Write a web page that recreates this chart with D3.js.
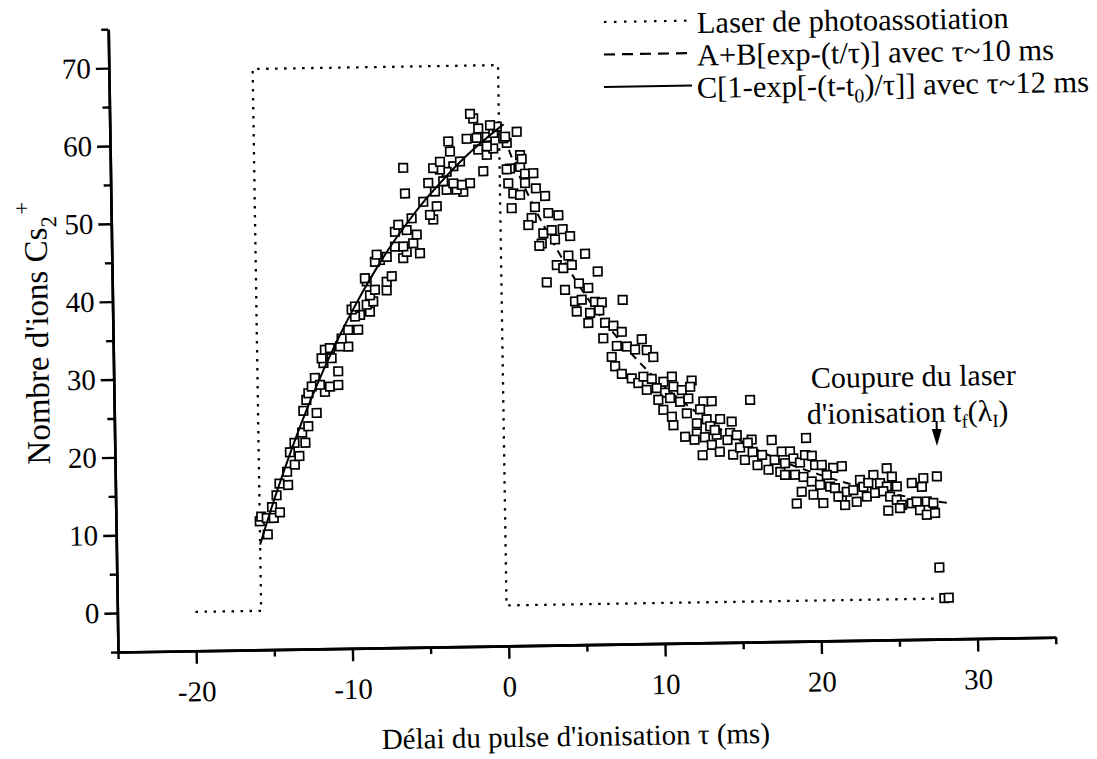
<!DOCTYPE html>
<html><head><meta charset="utf-8">
<script src="https://cdn.jsdelivr.net/npm/d3@7"></script>
<style>
body{margin:0;background:#fff}
svg{display:block}
</style>
</head><body>
<svg id="chart" width="1097" height="759"></svg>
<script>
// ---------------- data ----------------
const xTicksMajor = [-20, -10, 0, 10, 20, 30];
const xTicksMinor = [-25, -15, -5, 5, 15, 25, 35];
const yTicksMajor = [0, 10, 20, 30, 40, 50, 60, 70];
const yTicksMinor = [-5, 5, 15, 25, 35, 45, 55, 65, 75];

// photoassociation laser (dotted)
const laserT = [-20, -15.8, -15.8, -0.1, -0.1, 27.6];
const laserV = [0, 0, 69.6, 69.6, 0.2, 0.2];

// measured Cs2+ ions, rising part (t in ms, number of ions)
const risePoints = [
[-15.8,11.5],[-15.7,12.1],[-15.35,11.9],[-15.3,9.8],[-14.9,11.9],[-15.0,13.3],[-14.5,12.6],[-14.7,14.8],
[-14.5,16.3],[-13.95,16.1],[-14.0,17.8],[-13.5,18.7],[-13.2,19.8],[-13.8,20.3],[-13.5,21.5],[-12.8,21.5],
[-13.0,22.8],[-12.6,23.6],[-12.05,25.3],[-12.9,25.6],[-12.7,27.0],[-12.56,27.85],[-11.5,28.0],[-12.34,28.7],
[-12.13,29.8],[-11.81,28.9],[-11.17,28.65],[-10.64,28.85],[-10.63,30.6],[-11.57,31.7],[-11.04,32.3],[-11.68,32.3],
[-11.46,33.4],[-11.14,33.6],[-9.96,33.75],[-10.49,33.8],[-10.38,34.8],[-9.95,35.9],[-9.31,35.9],[-9.18,37.8],
[-9.5,37.6],[-8.54,38.2],[-8.74,39.1],[-9.71,38.5],[-9.49,38.9],[-8.32,39.5],[-7.45,40.9],[-8.52,40.3],
[-8.2,41.0],[-8.72,42.1],[-8.83,42.5],[-7.44,42.0],[-7.11,42.7],[-7.85,44.8],[-8.17,44.6],[-8.05,45.5],
[-7.41,45.2],[-6.36,45.0],[-5.28,45.6],[-6.13,45.8],[-6.87,46.5],[-6.34,46.5],[-5.7,46.9],[-5.47,48.0],
[-6.11,48.6],[-6.86,48.4],[-6.64,49.3],[-5.78,50.1],[-4.4,49.9],[-4.6,50.5],[-4.16,51.6],[-5.02,52.2],
[-2.45,53.4],[-2.87,53.7],[-4.26,53.5],[-3.51,53.7],[-2.01,54.5],[-2.54,54.3],[-3.08,54.5],[-3.72,54.8],
[-4.68,54.6],[-6.18,53.3],[-1.15,56.0],[-6.27,56.6],[-3.06,56.7],[-3.49,56.0],[-3.92,56.3],[-4.35,56.5],
[-3.91,57.3],[-2.63,57.3],[-3.26,58.6],[-3.36,59.9],[-1.45,58.8],[-0.91,58.1],[-0.49,58.9],[-0.9,59.2],
[-2.18,60.2],[-1.54,60.3],[-0.89,60.4],[-0.47,60.9],[-0.24,61.7],[-0.67,61.9],[-1.43,61.5],[-1.74,62.8],
[-1.94,63.4]
];

// measured Cs2+ ions, decaying part
const decayPoints = [
[1.03,61.0],[0.56,56.3],[0.44,54.4],[0.75,53.1],[0.63,51.2],[1.21,56.5],[0.38,59.6],[0.16,60.2],
[0.28,60.4],[1.22,58.0],[1.32,57.5],[0.35,56.2],[1.52,55.6],[2.05,55.65],[1.51,54.4],[2.2,53.7],
[2.78,52.7],[1.18,52.9],[2.12,51.3],[2.97,50.5],[3.61,50.2],[1.9,49.9],[1.68,49.0],[2.63,47.9],
[3.17,48.3],[3.87,48.4],[4.34,47.5],[3.37,47.1],[2.52,46.6],[2.36,46.3],[4.21,45.0],[5.28,45.2],
[3.46,43.8],[3.87,43.4],[4.42,43.8],[6.07,42.9],[2.8,41.6],[3.96,40.6],[4.86,41.4],[5.45,40.8],
[4.59,39.1],[5.02,39.3],[5.87,39.0],[6.3,38.9],[7.64,39.2],[4.69,37.8],[5.54,37.6],[6.13,37.9],
[5.42,36.3],[6.49,36.3],[7.02,35.9],[7.55,35.1],[6.36,34.3],[7.22,33.3],[7.86,33.2],[8.38,32.8],
[8.82,34.1],[9.13,32.7],[9.54,31.8],[6.88,31.9],[7.09,30.7],[7.51,29.7],[8.14,29.1],[8.56,28.5],
[8.89,29.3],[9.42,29.0],[10.16,28.6],[10.71,29.25],[11.97,28.7],[9.09,27.6],[9.73,27.8],[10.26,27.2],
[10.8,27.96],[11.33,27.5],[11.87,27.9],[9.82,26.3],[10.57,26.5],[11.21,26.0],[11.74,26.4],[12.7,26.0],
[13.23,26.0],[15.69,26.1],[10.13,25.0],[10.67,24.1],[11.63,24.5],[12.48,25.0],[10.76,23.0],[12.26,23.2],
[12.89,23.7],[13.75,23.7],[14.49,23.35],[11.5,21.5],[12.25,21.9],[13.11,22.8],[13.52,21.7],[14.38,21.9],
[14.8,21.6],[15.75,21.0],[17.03,20.9],[12.76,21.4],[13.2,20.4],[13.7,19.5],[14.2,21.0],[14.55,19.1],
[15.0,20.0],[15.3,18.4],[15.8,19.4],[16.1,17.7],[16.4,19.0],[16.8,17.1],[17.2,18.35],[17.55,16.8],
[15.5,20.6],[13.4,22.3],[12.1,21.1],[12.6,19.1],
[19.23,21.1],[17.66,19.4],[18.19,19.4],[18.4,18.5],[17.86,17.9],[18.82,17.95],[19.15,18.9],[19.58,18.8],
[19.78,17.6],[20.21,17.6],[20.94,17.2],[21.49,17.4],[17.85,16.4],[18.49,16.4],[19.03,16.1],[20.52,16.3],
[19.55,15.5],[20.08,15.05],[18.9,14.2],[19.65,13.8],[20.72,14.8],[21.03,14.6],[21.46,13.5],[21.78,14.1],
[22.2,14.3],[22.64,15.6],[22.85,14.7],[23.5,16.2],[23.17,15.2],[24.36,17.05],[24.68,15.96],[23.92,15.15],
[24.35,14.7],[24.99,14.7],[25.95,15.1],[26.69,15.7],[27.56,15.9],[26.59,14.6],[18.57,12.7],[20.27,12.7],
[21.24,13.5],[21.66,12.4],[22.41,12.8],[23.06,13.45],[23.59,13.9],[24.12,14.1],[24.55,13.4],[24.97,12.96],
[25.29,12.3],[24.42,11.6],[25.17,11.9],[25.93,12.5],[26.25,12.7],[26.89,12.7],[27.31,12.5],[26.45,11.6],
[26.88,11.0],[27.41,11.2],[27.63,4.2],[27.92,0.25],[28.2,0.3]
];

// fit C[1-exp[-(t-t0)/tau]] (solid)
const fitRiseT = [-15.8,-15,-14,-13,-12,-11,-10,-9,-8,-7,-6,-5,-4,-3,-2,-1,0,0.2];
const fitRiseV = [8.5,13.4,19.0,24.2,28.9,33.2,37.1,40.7,44.0,47.0,49.7,52.2,54.4,56.5,58.4,60.1,61.7,62.0];

// fit A+B[exp-(t/tau)] (dashed)
const fitDecayT = [0.2,1,2,3,4,5,6,7,8,9,10,12,14,16,18,20,22,24,26,28.2];
const fitDecayV = [60.4,56.1,51.6,47.6,44.0,40.7,37.7,35.0,32.6,30.4,28.4,25.0,22.1,19.8,17.9,16.4,15.1,14.1,13.2,12.5];

// annotation arrow (cut of the ionisation laser)
const arrowT = 27.6;
const arrowFromV = 23.0;
const arrowToV = 19.8;

// ---------------- layout ----------------
const FONT = "'Liberation Serif', Tinos, 'Times New Roman', 'Nimbus Roman', 'DejaVu Serif', serif";
const ox = 118, oy = 652;          // axes corner
const tilt = -0.9;                 // the scanned figure is slightly rotated
const pxPerMs = 15.63, pxPerIon = 7.786;
const FS = 29;

const svg = d3.select("#chart").style("font-family", FONT);
const rad = -tilt * Math.PI / 180;
function toFrame(ix, iy) {        // picture position -> unrotated frame position
  const dx = ix - ox, dy = iy - oy, c = Math.cos(rad), s = Math.sin(rad);
  return [ox + dx * c - dy * s, oy + dx * s + dy * c];
}

const g = svg.append("g").attr("transform", `rotate(${tilt},${ox},${oy})`)
  .style("font-family", FONT);

const x = d3.scaleLinear().domain([-25, 35]).range([ox, ox + 60 * pxPerMs]);
const y = d3.scaleLinear().domain([-5, 75]).range([oy, oy - 80 * pxPerIon]);

// ---- axes ----
function styleAxis(sel) {
  sel.attr("font-family", null).attr("font-size", null);
  sel.selectAll("path.domain").attr("stroke", "#000").attr("stroke-width", 2.6);
  sel.selectAll(".tick line").attr("stroke", "#000").attr("stroke-width", 2.4);
  sel.selectAll("text").style("font-size", FS + "px").style("font-family", FONT).attr("fill", "#000");
}
const fmt = d => String(d);

const xMinor = g.append("g").attr("transform", `translate(0,${oy})`)
  .call(d3.axisBottom(x).tickValues(xTicksMinor).tickSize(7).tickSizeOuter(0).tickFormat(""));
styleAxis(xMinor);
const xMajor = g.append("g").attr("transform", `translate(0,${oy})`)
  .call(d3.axisBottom(x).tickValues(xTicksMajor).tickSize(13).tickSizeOuter(0).tickPadding(17).tickFormat(fmt));
styleAxis(xMajor);
xMajor.selectAll("text").attr("dy", "0.71em");

const yMinor = g.append("g").attr("transform", `translate(${ox},0)`)
  .call(d3.axisLeft(y).tickValues(yTicksMinor).tickSize(7).tickSizeOuter(0).tickFormat(""));
styleAxis(yMinor);
const yMajor = g.append("g").attr("transform", `translate(${ox},0)`)
  .call(d3.axisLeft(y).tickValues(yTicksMajor).tickSize(13).tickSizeOuter(0).tickPadding(5).tickFormat(fmt));
styleAxis(yMajor);

// ---- laser (dotted) ----
const laserData = laserT.map((t, i) => [t, laserV[i]]);
g.append("path").datum(laserData)
  .attr("d", d3.line().x(d => x(d[0])).y(d => y(d[1])))
  .attr("fill", "none").attr("stroke", "#000").attr("stroke-width", 2.3)
  .attr("stroke-dasharray", "2.5 6.5");

// ---- dashed fit ----
const decayFit = fitDecayT.map((t, i) => [t, fitDecayV[i]]);
g.append("path").datum(decayFit)
  .attr("d", d3.line().curve(d3.curveMonotoneX).x(d => x(d[0])).y(d => y(d[1])))
  .attr("fill", "none").attr("stroke", "#000").attr("stroke-width", 2)
  .attr("stroke-dasharray", "8 6");

// ---- squares ----
const sq = 8.5;
g.append("g").selectAll("rect").data(risePoints.concat(decayPoints)).join("rect")
  .attr("x", d => x(d[0]) - sq / 2).attr("y", d => y(d[1]) - sq / 2)
  .attr("width", sq).attr("height", sq)
  .attr("fill", "#fff").attr("stroke", "#000").attr("stroke-width", 1.7);

// ---- solid fit ----
const riseFit = fitRiseT.map((t, i) => [t, fitRiseV[i]]);
g.append("path").datum(riseFit)
  .attr("d", d3.line().curve(d3.curveMonotoneX).x(d => x(d[0])).y(d => y(d[1])))
  .attr("fill", "none").attr("stroke", "#000").attr("stroke-width", 2);

// ---- arrow ----
const ax = x(arrowT), ay0 = y(arrowFromV), ay1 = y(arrowToV);
g.append("line").attr("x1", ax).attr("x2", ax).attr("y1", ay0).attr("y2", ay1 - 12)
  .attr("stroke", "#000").attr("stroke-width", 2);
g.append("path").attr("d", `M${ax},${ay1} L${ax - 5},${ay1 - 17} L${ax + 5},${ay1 - 17} Z`)
  .attr("fill", "#000");

// ---- axis titles ----
function txt(sel, size) { return sel.style("font-family", FONT).style("font-size", size + "px").attr("fill", "#000"); }

const xt = toFrame(576, 746);
txt(g.append("text"), FS).attr("x", xt[0]).attr("y", xt[1]).attr("text-anchor", "middle")
  .text("Délai du pulse d'ionisation τ (ms)");

const YFS = 33;
const yt = toFrame(48, 333);
const ytxt = txt(g.append("text"), YFS).attr("transform", `translate(${yt[0]},${yt[1]}) rotate(-90)`)
  .attr("text-anchor", "middle");
ytxt.append("tspan").text("Nombre d'ions Cs");
ytxt.append("tspan").style("font-size", (YFS * 0.68) + "px").attr("dy", 10).text("2");
ytxt.append("tspan").style("font-size", (YFS * 0.68) + "px").attr("dy", -27).attr("dx", 2).text("+");

// ---- legend ----
const legendRows = [
  {y: 22, size: 30.5, dash: "2.5 7.5", parts: [["Laser de photoassotiation", 0]]},
  {y: 54.5, size: 30.5, dash: "11 7", parts: [["A+B[exp-(t/τ)] avec τ~10 ms", 0]]},
  {y: 87, size: 30.5, dash: null, parts: [["C[1-exp[-(t-t", 0], ["0", 1], [")/τ]] avec τ~12 ms", -1]]}
];
legendRows.forEach(r => {
  const p = toFrame(604, r.y);
  const ln = g.append("line").attr("x1", p[0]).attr("x2", p[0] + 88).attr("y1", p[1]).attr("y2", p[1])
    .attr("stroke", "#000").attr("stroke-width", r.dash ? 2.2 : 2);
  if (r.dash) ln.attr("stroke-dasharray", r.dash);
  const q = toFrame(697, r.y + 11);
  const t = txt(g.append("text"), r.size).attr("x", q[0]).attr("y", q[1]);
  r.parts.forEach(([s, sub]) => {
    const ts = t.append("tspan").text(s);
    if (sub === 1) ts.style("font-size", (r.size * 0.65) + "px").attr("dy", 7);
    if (sub === -1) ts.attr("dy", -7);
  });
});

// ---- annotation ----
const AFS = 30;
const a1 = toFrame(811, 388);
txt(g.append("text"), AFS).attr("x", a1[0]).attr("y", a1[1]).text("Coupure du laser");
const a2 = toFrame(807, 424);
const at = txt(g.append("text"), AFS).attr("x", a2[0]).attr("y", a2[1]);
at.append("tspan").text("d'ionisation t");
at.append("tspan").style("font-size", (AFS * 0.62) + "px").attr("dy", 6).text("f");
at.append("tspan").attr("dy", -6).text("(λ");
at.append("tspan").style("font-size", (AFS * 0.62) + "px").attr("dy", 6).text("I");
at.append("tspan").attr("dy", -6).text(")");
</script>
</body></html>
